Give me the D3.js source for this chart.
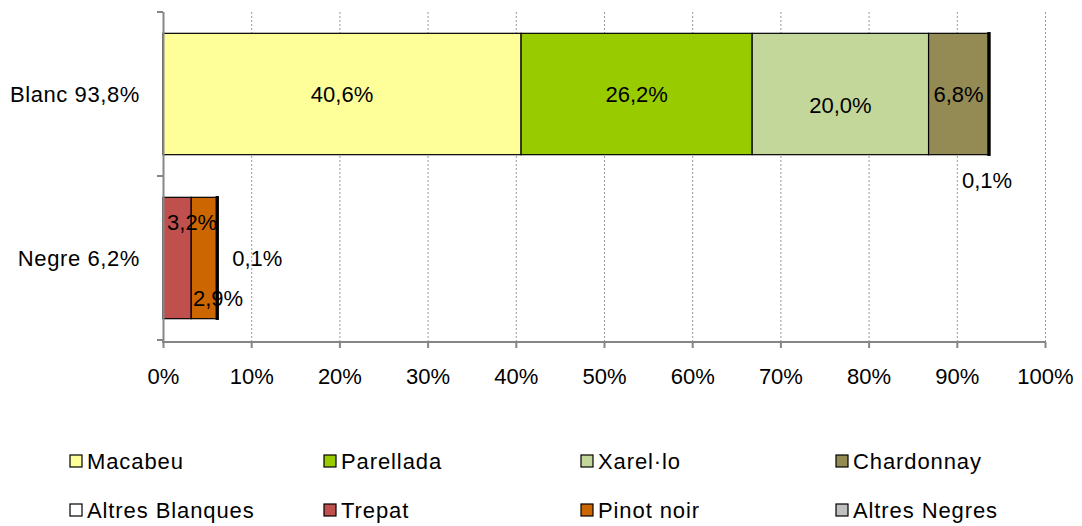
<!DOCTYPE html>
<html><head><meta charset="utf-8">
<script src="https://cdn.jsdelivr.net/npm/d3@7"></script>
<style>body{margin:0;background:#fff;} svg{display:block;font-family:"Liberation Sans",Arial,sans-serif;}</style>
</head><body>
<svg id="c" width="1082" height="526"></svg>
<script>
const categories = ["Blanc 93,8%", "Negre 6,2%"];
const varieties = ["Macabeu","Parellada","Xarel·lo","Chardonnay","Altres Blanques","Trepat","Pinot noir","Altres Negres"];
const blancValues = [40.6, 26.2, 20.0, 6.8, 0.1, 0, 0, 0];
const negreValues = [0, 0, 0, 0, 0, 3.2, 2.9, 0.1];
const colors = ["#FFFF99","#99CC00","#C4D79B","#948A54","#FFFFFF","#C0504D","#CC6600","#C0C0C0"];
const xTicks = [0,10,20,30,40,50,60,70,80,90,100];
const labelText = (v) => d3.format(".1f")(v).replace(".", ",") + "%";
// label placement tweaks (Excel auto placement), keyed "category-variety": [dx, dy]
const labelShift = {
  "0-2": [0, 11], "0-4": [-2, 86],
  "1-5": [15, -36], "1-6": [14, 40], "1-7": [40, 0]
};
const FS = 22;

const svg = d3.select("#c");
const x = d3.scaleLinear().domain([0,100]).range([163,1045]);
const y = d3.scaleBand().domain(categories).range([12,340]).paddingInner(0.26).paddingOuter(0.13);
const rows = [blancValues, negreValues];

// gridlines
svg.append("g").selectAll("line").data(xTicks.filter(t=>t>0)).join("line")
  .attr("x1", d=>x(d)+0.5).attr("x2", d=>x(d)+0.5).attr("y1", 12).attr("y2", 342)
  .attr("stroke", "#9a9a9a").attr("stroke-width", 1).attr("stroke-dasharray", "2,2");

// bars
rows.forEach((vals, ci) => {
  let acc = 0;
  const segs = vals.map((v, i) => { const s = {v, i, x0: acc}; acc += v; return s; }).filter(s => s.v > 0);
  const sh = d => labelShift[ci + "-" + d.i] || [0, 0];
  const g = svg.append("g");
  g.selectAll("rect").data(segs).join("rect")
    .attr("x", d => x(d.x0)).attr("width", d => x(d.x0 + d.v) - x(d.x0))
    .attr("y", y(categories[ci])).attr("height", y.bandwidth())
    .attr("fill", d => colors[d.i]).attr("stroke", "#000").attr("stroke-width", d => d.v < 0.5 ? 2.5 : 1.2);
  g.selectAll("text").data(segs).join("text")
    .attr("x", d => x(d.x0 + d.v/2) + sh(d)[0])
    .attr("y", d => y(categories[ci]) + y.bandwidth()/2 + 8 + sh(d)[1])
    .attr("text-anchor", "middle").attr("font-size", FS).attr("fill", "#000")
    .text(d => labelText(d.v));
});

// y axis
svg.append("line").attr("x1",163.5).attr("x2",163.5).attr("y1",12).attr("y2",342).attr("stroke","#868686").attr("stroke-width",2);
svg.append("g").selectAll("line").data([12,176,340]).join("line")
  .attr("x1",157).attr("x2",163).attr("y1",d=>d).attr("y2",d=>d).attr("stroke","#868686").attr("stroke-width",2);
svg.append("g").selectAll("text").data(categories).join("text")
  .attr("x",140).attr("y",d=>y(d)+y.bandwidth()/2+8).attr("text-anchor","end").attr("font-size",FS)
  .attr("letter-spacing", 0.6).text(d=>d);

// x axis
const xAxis = d3.axisBottom(x).tickValues(xTicks).tickSize(6).tickPadding(20).tickFormat(d => d + "%");
const ax = svg.append("g").attr("transform","translate(0,342)").call(xAxis);
ax.select(".domain").attr("stroke","#868686").attr("stroke-width",2).attr("d", "M162,0H1046");
ax.selectAll(".tick line").attr("stroke","#868686").attr("stroke-width",2);
ax.selectAll(".tick text").attr("font-size",FS).attr("fill","#000").attr("font-family","'Liberation Sans',Arial,sans-serif");

// legend
const legCols = [70, 324, 581, 836];
const legRows = [461, 510];
const leg = svg.append("g").selectAll("g").data(varieties).join("g")
  .attr("transform", (d,i) => `translate(${legCols[i%4]},${legRows[Math.floor(i/4)]})`);
leg.append("rect").attr("x",0).attr("y",-6).attr("width",12).attr("height",12)
  .attr("fill",(d,i)=>colors[i]).attr("stroke","#000").attr("stroke-width",1.2);
leg.append("text").attr("x",17).attr("y",8).attr("font-size",FS).attr("letter-spacing", 0.9).text(d=>d);
</script>
</body></html>
